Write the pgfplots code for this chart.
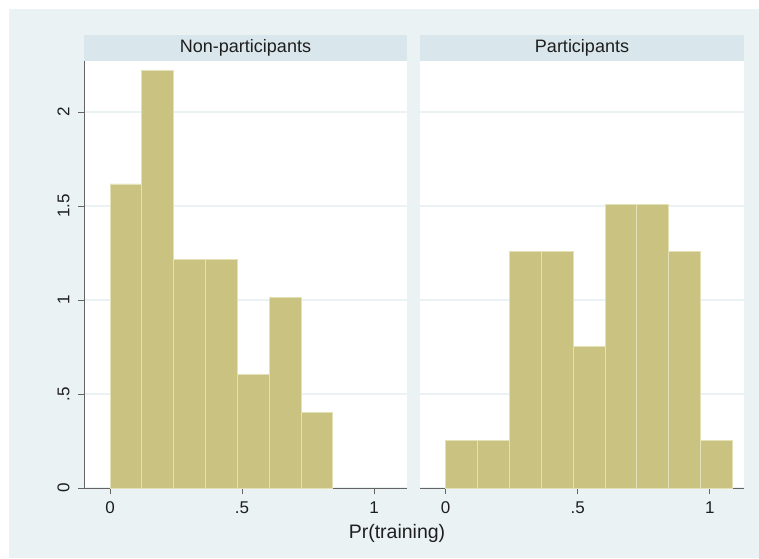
\documentclass[border=0pt]{standalone}
\usepackage{pgfplots}
\pgfplotsset{compat=1.18}
\usepackage{fontspec}
\setmainfont{Liberation Sans}
\definecolor{bgc}{RGB}{234,242,243}
\definecolor{hdr}{RGB}{217,230,235}
\definecolor{barc}{RGB}{201,194,129}
\definecolor{bare}{RGB}{228,224,184}
\definecolor{axc}{RGB}{100,100,100}
\definecolor{gridc}{RGB}{234,242,243}
\definecolor{txt}{RGB}{30,30,30}
\pgfplotsset{
  panel/.style={
    scale only axis, anchor=south west,
    height=427pt, ymin=0, ymax=2.271,
    axis background/.style={fill=white},
    axis x line=bottom, axis y line=left,
    axis line style={-, axc, line width=0.9pt},
    tick align=outside, major tick length=6pt,
    tick style={axc, line width=0.9pt},
    xtick={0,0.5,1}, xticklabels={0,.5,1},
    ytick={0,0.5,1,1.5,2},
    ymajorgrids, grid style={gridc, line width=1.2pt},
    tick label style={font=\fontsize{17}{19}\selectfont, text=txt},
    xticklabel style={yshift=-4pt},
    /pgf/number format/assume math mode=true,
    clip=false,
  },
  bars/.style={ybar interval, fill=barc, draw=bare, line width=0.9pt},
}
\begin{document}
\begin{tikzpicture}[x=1pt,y=1pt]
\fill[white] (0,0) rectangle (759,-558);
\fill[bgc] (9,-9) rectangle (759,-558);
\fill[hdr] (84,-35) rectangle (407,-61);
\fill[hdr] (420,-35) rectangle (744,-61);
\node[font=\fontsize{18}{20}\selectfont, text=txt] at (245.5,-48) {Non-participants};
\node[font=\fontsize{18}{20}\selectfont, text=txt] at (582,-48) {Participants};
\node[font=\fontsize{19.5}{21}\selectfont, text=txt] at (397,-533) {Pr(training)};

\begin{axis}[panel, at={(84pt,-488pt)}, width=323pt,
  xmin=-0.0985, xmax=1.125,
  yticklabels={0,.5,1,1.5,2},
  yticklabel style={xshift=-5pt, rotate=90, anchor=south},
]
\addplot[bars] coordinates {
 (0,1.617) (0.1206,2.223) (0.2412,1.213) (0.3618,1.213) (0.4824,0.606)
 (0.6030,1.011) (0.7236,0.404) (0.8442,0)
};
\end{axis}

\begin{axis}[panel, at={(420pt,-488pt)}, width=324pt,
  xmin=-0.0973, xmax=1.129,
  yticklabels={},
  y axis line style={draw=none},
  ytick style={draw=none},
]
\addplot[bars] coordinates {
 (0,0.2516) (0.1206,0.2516) (0.2412,1.258) (0.3618,1.258) (0.4824,0.755)
 (0.6030,1.510) (0.7236,1.510) (0.8442,1.258) (0.9648,0.2516) (1.0854,0)
};
\end{axis}
\end{tikzpicture}
\end{document}
